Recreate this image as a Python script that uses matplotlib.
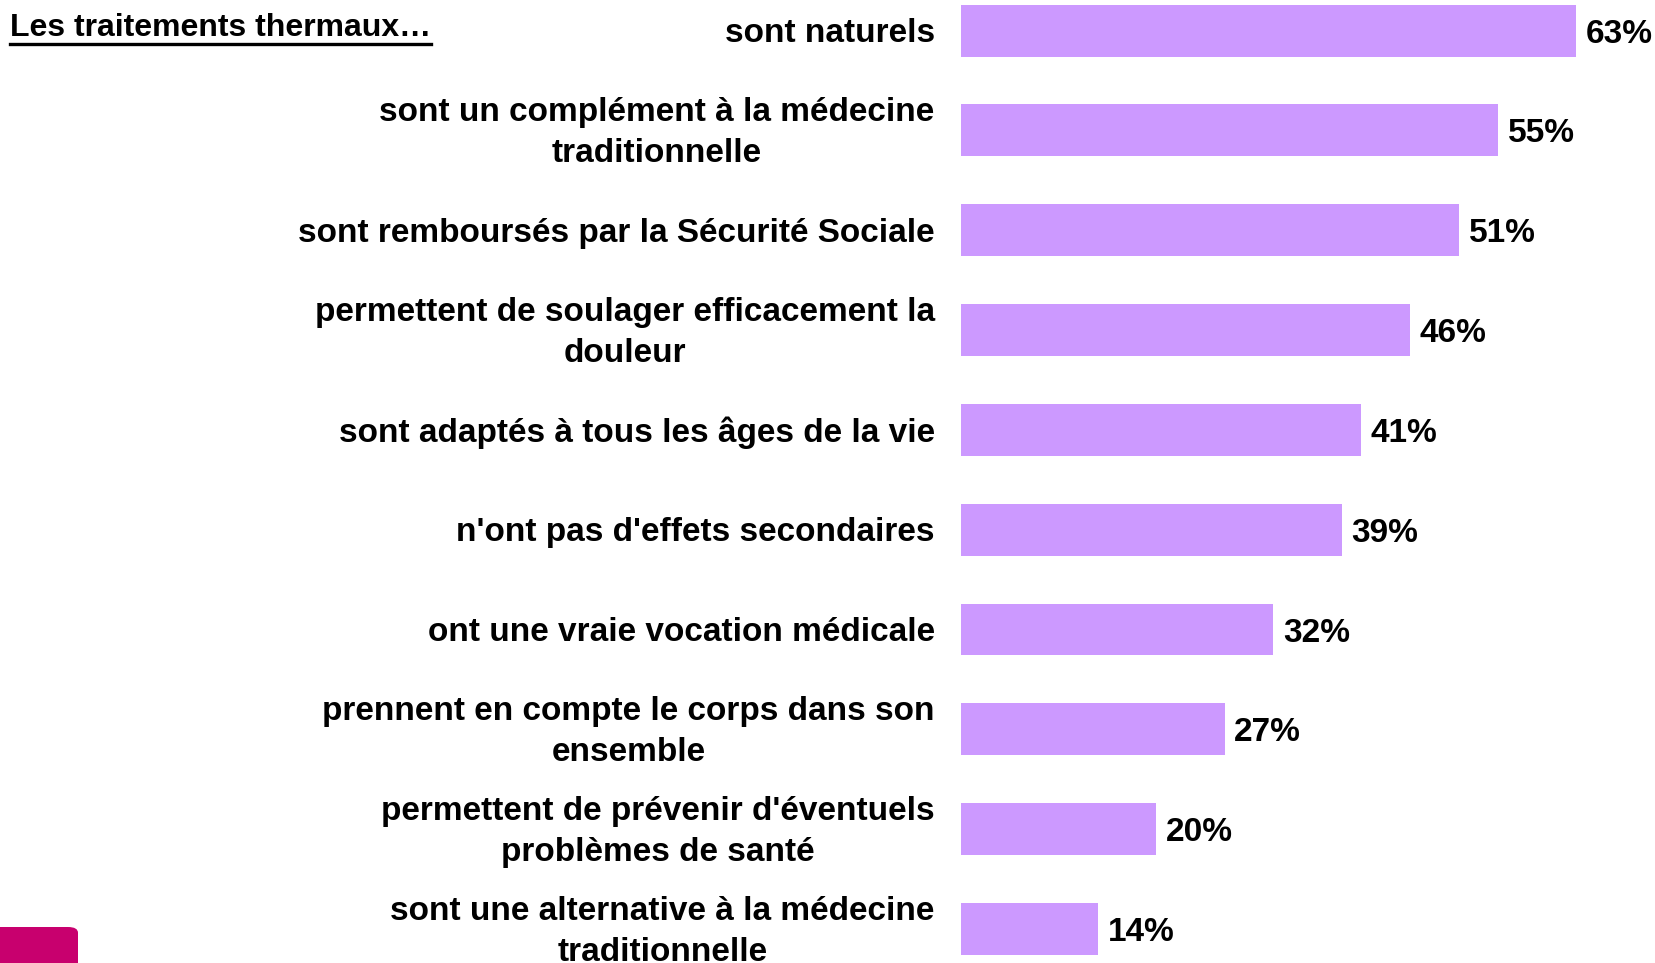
import matplotlib.pyplot as plt
from matplotlib.patches import FancyBboxPatch
from matplotlib.lines import Line2D

plt.rcParams['font.family'] = ['Liberation Sans', 'DejaVu Sans']

labels = [
    "sont naturels",
    "sont un complément à la médecine\ntraditionnelle",
    "sont remboursés par la Sécurité Sociale",
    "permettent de soulager efficacement la\ndouleur",
    "sont adaptés à tous les âges de la vie",
    "n'ont pas d'effets secondaires",
    "ont une vraie vocation médicale",
    "prennent en compte le corps dans son\nensemble",
    "permettent de prévenir d'éventuels\nproblèmes de santé",
    "sont une alternative à la médecine\ntraditionnelle",
]
values = [63, 55, 51, 46, 41, 39, 32, 27, 20, 14]
title = "Les traitements thermaux…"

W, H = 1656, 963
fig = plt.figure(figsize=(W / 100, H / 100), dpi=100)
ax = fig.add_axes([961 / W, 0, 1 - 961 / W, 1])

ypos = list(range(len(values)))
ax.barh(ypos, values, height=0.52, color="#CC99FF", edgecolor="none")
ax.set_xlim(0, 695 / 9.76)
ax.set_ylim(9 + (963 - 929) / 99.8, -30.6 / 99.8)
ax.axis("off")

# texte un peu plus bas que le centre exact
for y, v in zip(ypos, values):
    ax.text(v + 1.0, y + 0.035, f"{v}%", va="center", ha="left",
            fontsize=24, fontweight="bold", color="black")

for y, lab in zip(ypos, labels):
    ax.text(-2.7, y + 0.028, lab, va="center", ha="right", multialignment="center",
            fontsize=24, fontweight="bold", color="black", linespacing=1.4,
            clip_on=False)

t = fig.text(10 / W, 1 - 28 / H, title, ha="left", va="center",
             fontsize=23, fontweight="bold", color="black")
fig.canvas.draw()
bb = t.get_window_extent()
uy = bb.y0 - 1
fig.add_artist(Line2D([bb.x0 / W, bb.x1 / W], [uy / H, uy / H],
                      transform=fig.transFigure, color="black", lw=2.4))

fig.add_artist(FancyBboxPatch((-20 / W, -20 / H), 98 / W, 56 / H,
                              boxstyle="round,pad=0,rounding_size=0.006",
                              transform=fig.transFigure,
                              facecolor="#C8006E", edgecolor="none"))

fig.savefig("out.png", dpi=100)
